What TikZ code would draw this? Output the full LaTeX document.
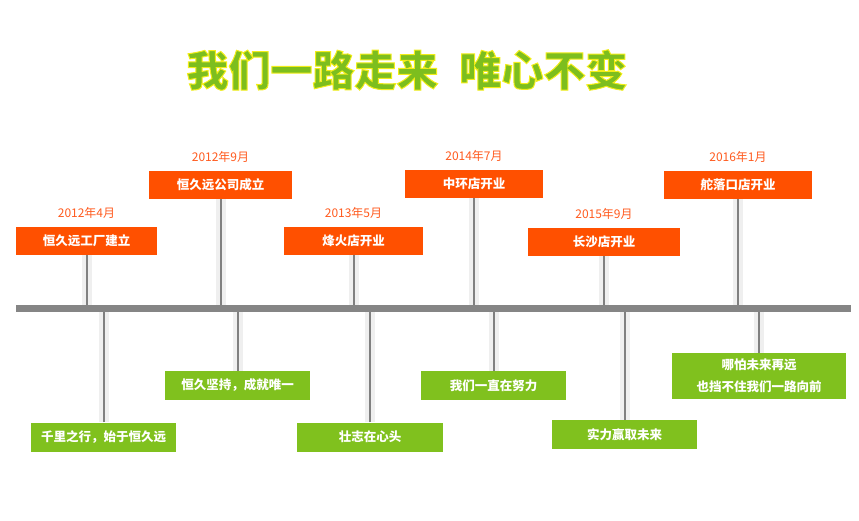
\documentclass[tikz,border=0pt]{standalone}
\usepackage{fontspec}
\setmainfont{Noto Sans CJK SC}
\usetikzlibrary{positioning}
\definecolor{eventorange}{HTML}{FF5000}
\definecolor{dateorange}{HTML}{FF5A1E}
\definecolor{mottogreen}{HTML}{80C11E}
\definecolor{titlegreen}{HTML}{7DBE1E}
\definecolor{axisgray}{HTML}{858585}
\definecolor{stemgray}{HTML}{808080}
\definecolor{bandgray}{HTML}{EFEFEF}
\newcommand{\yellowrim}[1]{\special{pdf:literal direct 2 Tr 1 w 0.95 0.93 0.1 RG}#1\special{pdf:literal direct 0 Tr}}
\begin{document}
\begin{tikzpicture}[x=1pt, y=-1pt,
    event/.style={fill=eventorange, text=white, inner sep=0pt, minimum height=28pt,
      font=\fontsize{12.5}{14}\selectfont\bfseries},
    motto/.style={fill=mottogreen, text=white, inner sep=0pt, minimum height=29pt,
      align=center, font=\fontsize{12.5}{22}\selectfont\bfseries},
    date/.style={text=dateorange, inner sep=0pt, font=\fontsize{12}{14}\selectfont},
    band/.style={draw=bandgray, line width=10pt},
    stem/.style={draw=stemgray, line width=2pt},
    axisline/.style={draw=axisgray, line width=6.5pt}]
  \useasboundingbox (0,0) rectangle (859,521);
  % title
  \node[text=titlegreen, font=\fontsize{42}{48}\selectfont\bfseries] (title) at (407,70)
    {\yellowrim{我们一路走来\hspace{0.5em}唯心不变}};
  % events above the axis
  \node[event, minimum width=141pt] (factory)   at (86.5,241) {恒久远工厂建立};
  \node[event, minimum width=143pt] (company)   at (220.5,185) {恒久远公司成立};
  \node[event, minimum width=139pt] (fenghuo)   at (353.5,241) {烽火店开业};
  \node[event, minimum width=138pt] (zhonghuan) at (474,184) {中环店开业};
  \node[event, minimum width=152pt] (changsha)  at (604,242) {长沙店开业};
  \node[event, minimum width=148pt] (duoluo)    at (738,185) {舵落口店开业};
  \node[date, above=8pt of factory]   (d1) {2012年4月};
  \node[date, above=8pt of company]   (d2) {2012年9月};
  \node[date, above=8pt of fenghuo]   (d3) {2013年5月};
  \node[date, above=8pt of zhonghuan] (d4) {2014年7月};
  \node[date, above=8pt of changsha]  (d5) {2015年9月};
  \node[date, above=8pt of duoluo]    (d6) {2016年1月};
  % mottos below the axis
  \node[motto, minimum width=145pt] (thousand) at (103.5,437) {千里之行，始于恒久远};
  \node[motto, minimum width=145pt] (persist)  at (237.5,385.5) {恒久坚持，成就唯一};
  \node[motto, minimum width=146pt] (ambition) at (370,437) {壮志在心头};
  \node[motto, minimum width=145pt] (effort)   at (493.5,385.5) {我们一直在努力};
  \node[motto, minimum width=145pt] (strength) at (624.5,434.5) {实力赢取未来};
  \node[motto, minimum width=174pt, minimum height=46pt] (forward) at (759,376)
    {哪怕未来再远\\也挡不住我们一路向前};
  % axis
  \coordinate (axis west) at (16,308.5);
  \coordinate (axis east) at (851,308.5);
  \foreach \e in {factory,company,fenghuo,zhonghuan,changsha,duoluo}{
    \draw[band] (\e.south) -- (\e.south |- axis west);
    \draw[stem] (\e.south) -- (\e.south |- axis west);
  }
  \foreach \m in {thousand,persist,ambition,effort,strength,forward}{
    \draw[band] (\m.north) -- (\m.north |- axis west);
    \draw[stem] (\m.north) -- (\m.north |- axis west);
  }
  \draw[axisline] (axis west) -- (axis east);
\end{tikzpicture}
\end{document}
